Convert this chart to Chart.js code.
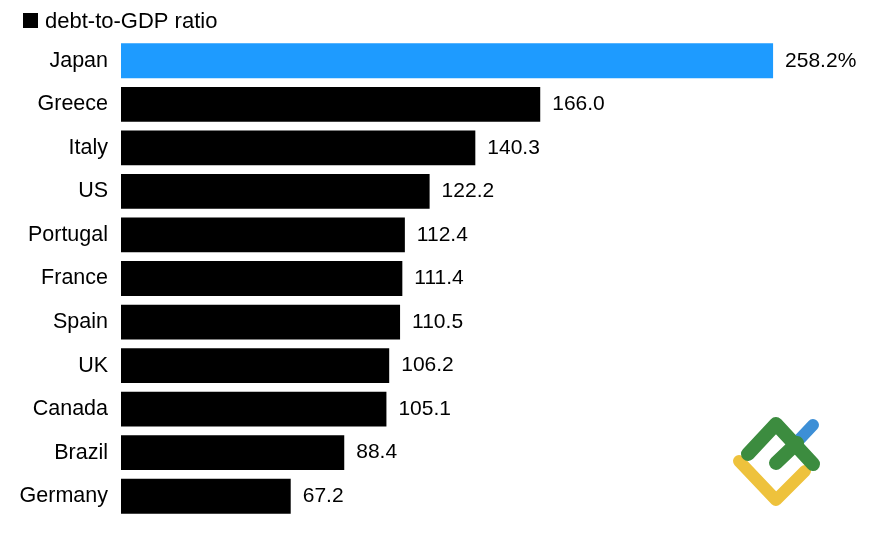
<!DOCTYPE html>
<html>
<head>
<meta charset="utf-8">
<style>
  html, body { margin: 0; padding: 0; background: #fff; }
  #wrap { position: relative; width: 889px; height: 533px; }
</style>
<script src="https://cdn.jsdelivr.net/npm/chart.js@4"></script>
</head>
<body>
<div id="wrap"><canvas id="chart"></canvas></div>
<script>
const countries = ['Japan', 'Greece', 'Italy', 'US', 'Portugal', 'France', 'Spain', 'UK', 'Canada', 'Brazil', 'Germany'];
const ratios = [258.2, 166.0, 140.3, 122.2, 112.4, 111.4, 110.5, 106.2, 105.1, 88.4, 67.2];
const valueLabels = ['258.2%', '166.0', '140.3', '122.2', '112.4', '111.4', '110.5', '106.2', '105.1', '88.4', '67.2'];
const barColors = ['#1e9bff', '#000', '#000', '#000', '#000', '#000', '#000', '#000', '#000', '#000', '#000'];
const seriesName = 'debt-to-GDP ratio';

const font = '"Liberation Sans", Arial, sans-serif';

function line(ctx, color, width, pts) {
    ctx.strokeStyle = color;
    ctx.lineWidth = width;
    ctx.beginPath();
    pts.forEach((p, i) => i ? ctx.lineTo(p[0], p[1]) : ctx.moveTo(p[0], p[1]));
    ctx.stroke();
}

// legend, value labels next to the bars, and the small logo in the corner
const extras = {
    id: 'extras',
    afterDatasetsDraw(chart) {
        const { ctx } = chart;
        const meta = chart.getDatasetMeta(0);
        ctx.save();
        ctx.fillStyle = '#000';
        ctx.font = '21px ' + font;
        ctx.textBaseline = 'middle';
        meta.data.forEach((bar, i) => {
            ctx.fillText(valueLabels[i], bar.x + 12, bar.y);
        });
        ctx.fillRect(23, 13, 15, 15);
        ctx.font = '22px ' + font;
        ctx.fillText(seriesName, 45, 21.5);

        ctx.lineCap = 'round';
        ctx.lineJoin = 'round';
        line(ctx, '#3d8fd6', 12, [[797, 442], [813, 425]]);
        line(ctx, '#eec23c', 12, [[739, 461], [776, 500], [805, 471]]);
        line(ctx, '#3c8c3f', 14, [[748, 454], [776, 424], [813, 464]]);
        line(ctx, '#3c8c3f', 14, [[776, 463], [797, 443]]);
        ctx.restore();
    }
};

new Chart(document.getElementById('chart'), {
    type: 'bar',
    data: {
        labels: countries,
        datasets: [{
            label: seriesName,
            data: ratios,
            backgroundColor: barColors,
            barPercentage: 0.8,
            categoryPercentage: 1,
        }],
    },
    plugins: [extras],
    options: {
        indexAxis: 'y',
        responsive: true,
        maintainAspectRatio: false,
        animation: false,
        layout: { padding: { top: 39, left: 0, right: 0, bottom: 15 } },
        plugins: {
            legend: { display: false },
            tooltip: { enabled: false },
        },
        scales: {
            x: { display: false, min: 0, max: 304.1 },
            y: {
                grid: { display: false },
                border: { display: false },
                ticks: { color: '#000', font: { family: font, size: 21.5 }, padding: 5 },
                afterFit(scale) {
                    scale.width = 121;
                    scale.paddingTop = 0;
                    scale.paddingBottom = 0;
                },
            },
        },
    },
});
</script>
</body>
</html>
